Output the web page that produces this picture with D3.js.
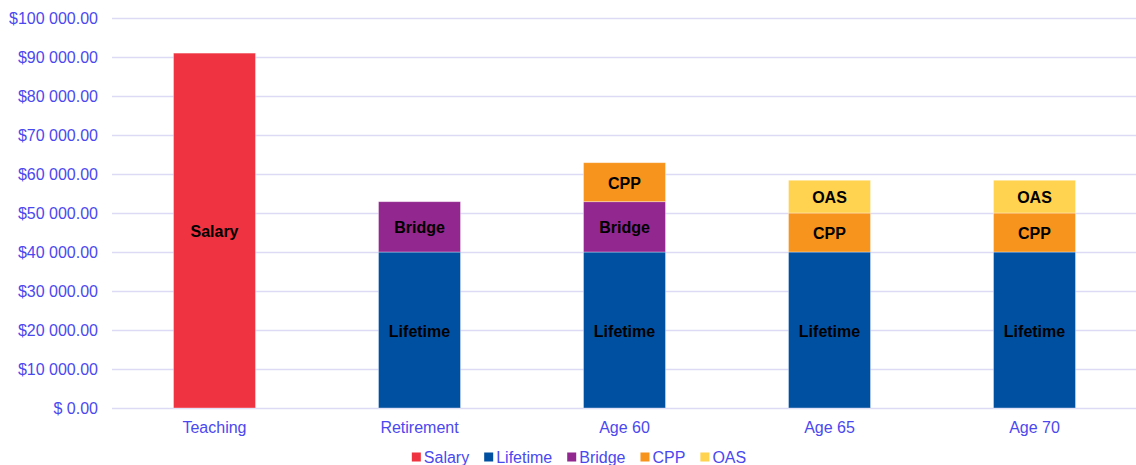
<!DOCTYPE html>
<html>
<head>
<meta charset="utf-8">
<script src="https://cdn.jsdelivr.net/npm/d3@7"></script>
<style>
    body { margin: 0; background: #fff; }
    svg { display: block; font-family: "Liberation Sans", Arial, sans-serif; }
</style>
</head>
<body>
<div id="chart"></div>
<script>
'use strict';

// categories and series
const categories = ['Teaching', 'Retirement', 'Age 60', 'Age 65', 'Age 70'];
const seriesNames = ['Salary', 'Lifetime', 'Bridge', 'CPP', 'OAS'];
const salary   = [91000, 0, 0, 0, 0];
const lifetime = [0, 40000, 40000, 40000, 40000];
const bridge   = [0, 12900, 12900, 0, 0];
const cpp      = [0, 0, 10000, 10000, 10000];
const oas      = [0, 0, 0, 8400, 8400];
const yTicks = [0, 10000, 20000, 30000, 40000, 50000, 60000, 70000, 80000, 90000, 100000];

const COLORS = {
    Salary: '#EF3340',
    Lifetime: '#0050A2',
    Bridge: '#92278F',
    CPP: '#F7941D',
    OAS: '#FFD24F'
};

const w = 1136;
const h = 465;
const margin = {top: 18, right: -1, bottom: 57, left: 112};

//build rows for d3.stack
const rows = categories.map((c, i) => ({
    cat: c,
    Salary: salary[i],
    Lifetime: lifetime[i],
    Bridge: bridge[i],
    CPP: cpp[i],
    OAS: oas[i]
}));

const stacked = d3.stack().keys(seriesNames)(rows);

const x = d3.scaleBand()
    .domain(categories)
    .range([margin.left, w - margin.right])
    .paddingInner(0.6)
    .paddingOuter(0.3);

const y = d3.scaleLinear()
    .domain([0, 100000])
    .range([h - margin.bottom, margin.top]);

//format like "$90 000.00"
function money(v) {
    if (v === 0) return '$ 0.00';
    return '$' + d3.format(',.2f')(v).replace(/,/g, ' ');
}

const svg = d3.select('#chart')
    .append('svg')
    .attr('width', w)
    .attr('height', h);

//gridlines
svg.append('g')
    .selectAll('line')
    .data(yTicks)
    .enter()
    .append('line')
    .attr('x1', margin.left)
    .attr('x2', w)
    .attr('y1', d => Math.round(y(d)) + 0.5)
    .attr('y2', d => Math.round(y(d)) + 0.5)
    .attr('stroke', '#DCDAF5')
    .attr('stroke-width', 1.5);

//y labels
svg.append('g')
    .selectAll('text')
    .data(yTicks)
    .enter()
    .append('text')
    .attr('x', 98)
    .attr('y', d => y(d))
    .attr('dy', '0.35em')
    .attr('text-anchor', 'end')
    .attr('font-size', 16)
    .attr('fill', '#4B48F0')
    .text(d => money(d));

//bars
const layers = svg.append('g')
    .selectAll('g')
    .data(stacked)
    .enter()
    .append('g')
    .attr('fill', d => COLORS[d.key]);

layers.selectAll('rect')
    .data(d => d.filter(p => p[1] - p[0] > 0))
    .enter()
    .append('rect')
    .attr('x', d => x(d.data.cat))
    .attr('width', x.bandwidth())
    .attr('y', d => y(d[1]))
    .attr('height', d => y(d[0]) - y(d[1]))
    .attr('stroke', 'rgba(255,255,255,0.45)')
    .attr('stroke-width', 0.8);

//segment labels
stacked.forEach(layer => {
    svg.append('g')
        .selectAll('text')
        .data(layer.filter(p => p[1] - p[0] > 0))
        .enter()
        .append('text')
        .attr('x', d => x(d.data.cat) + x.bandwidth() / 2)
        .attr('y', d => (y(d[0]) + y(d[1])) / 2 + 1)
        .attr('dy', '0.35em')
        .attr('text-anchor', 'middle')
        .attr('font-size', 16)
        .attr('font-weight', 'bold')
        .attr('fill', '#000')
        .text(layer.key);
});

//x labels
svg.append('g')
    .selectAll('text')
    .data(categories)
    .enter()
    .append('text')
    .attr('x', d => x(d) + x.bandwidth() / 2)
    .attr('y', 427)
    .attr('dy', '0.35em')
    .attr('text-anchor', 'middle')
    .attr('font-size', 16)
    .attr('fill', '#4B48F0')
    .text(d => d);

//legend, laid out from measured text widths
const legend = svg.append('g');
let lx = 0;
seriesNames.forEach(name => {
    const item = legend.append('g').attr('transform', `translate(${lx},0)`);
    item.append('rect')
        .attr('x', 0)
        .attr('y', -4.5)
        .attr('width', 9)
        .attr('height', 9)
        .attr('fill', COLORS[name]);
    const t = item.append('text')
        .attr('x', 12)
        .attr('y', 0)
        .attr('dy', '0.35em')
        .attr('font-size', 16)
        .attr('fill', '#4B48F0')
        .text(name);
    lx += 12 + t.node().getComputedTextLength() + 15;
});
lx -= 15;
legend.attr('transform', `translate(${(w - lx) / 2 + 11},457)`);
</script>
</body>
</html>
